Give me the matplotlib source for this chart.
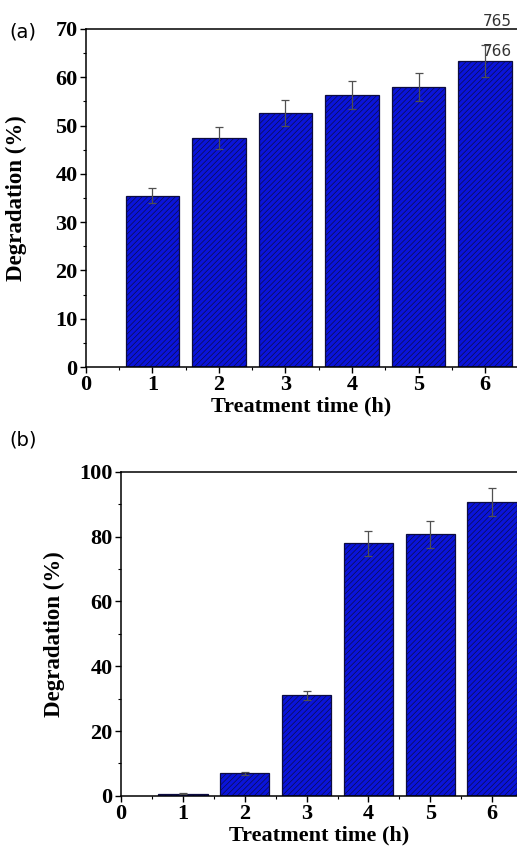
import matplotlib.pyplot as plt
from matplotlib.ticker import MultipleLocator

# данные: время обработки и степень деградации
hours = [1, 2, 3, 4, 5, 6]
deg_a = [35.5, 47.4, 52.6, 56.4, 58.0, 63.4]
err_a = [1.6, 2.3, 2.7, 2.9, 2.9, 3.3]
deg_b = [0.6, 6.9, 31.1, 78.0, 80.7, 90.8]
err_b = [0.15, 0.35, 1.4, 3.9, 4.2, 4.4]

plt.rcParams['font.family'] = ['Liberation Serif', 'DejaVu Serif']
plt.rcParams['hatch.color'] = '#0000a8'
plt.rcParams['hatch.linewidth'] = 0.45

fig = plt.figure(figsize=(5.17, 8.51), dpi=100)


def draw_panel(ax, x, y, err, ymax, major, xmax):
    ax.bar(x, y, width=0.8, color='#0a14da', edgecolor='#0c0c40',
           linewidth=0.9, hatch='//////')
    ax.errorbar(x, y, yerr=err, fmt='none', ecolor='#505050',
                elinewidth=0.9, capsize=3, capthick=0.9)
    ax.set_xlim(0, xmax)
    ax.set_ylim(0, ymax)
    ax.set_xticks(range(0, 7))
    ax.xaxis.set_minor_locator(MultipleLocator(0.5))
    ax.yaxis.set_major_locator(MultipleLocator(major))
    ax.yaxis.set_minor_locator(MultipleLocator(major / 2))
    ax.spines['right'].set_visible(False)
    for s in ['left', 'bottom', 'top']:
        ax.spines[s].set_linewidth(1.1)
    ax.tick_params(which='major', direction='out', length=4, width=1,
                   labelsize=16, top=False, right=False, pad=2)
    ax.tick_params(which='minor', direction='out', length=2.5, width=0.8,
                   top=False, right=False)
    for lab in ax.get_xticklabels() + ax.get_yticklabels():
        lab.set_fontweight('bold')
    ax.set_xlabel('Treatment time (h)', fontsize=16, fontweight='bold',
                  labelpad=1)
    ax.set_ylabel('Degradation (%)', fontsize=16.5, fontweight='bold')


ax1 = fig.add_axes([0.166, 0.5687, 0.834, 0.3973])
draw_panel(ax1, hours, deg_a, err_a, 70, 10, 6.48)
ax1.yaxis.set_label_coords(-0.137, 0.5)

ax2 = fig.add_axes([0.234, 0.0649, 0.766, 0.3805])
draw_panel(ax2, hours, deg_b, err_b, 100, 20, 6.40)
ax2.yaxis.set_label_coords(-0.141, 0.5)

# подписи панелей и номера страниц
fig.text(0.018, 0.962, '(a)', fontsize=14, family='DejaVu Sans', va='center')
fig.text(0.018, 0.483, '(b)', fontsize=14, family='DejaVu Sans', va='center')
fig.text(0.99, 0.975, '765', fontsize=11, family='DejaVu Sans',
         color='#333333', ha='right', va='center')
fig.text(0.99, 0.94, '766', fontsize=11, family='DejaVu Sans',
         color='#333333', ha='right', va='center')

fig.savefig('out.png', dpi=100)
